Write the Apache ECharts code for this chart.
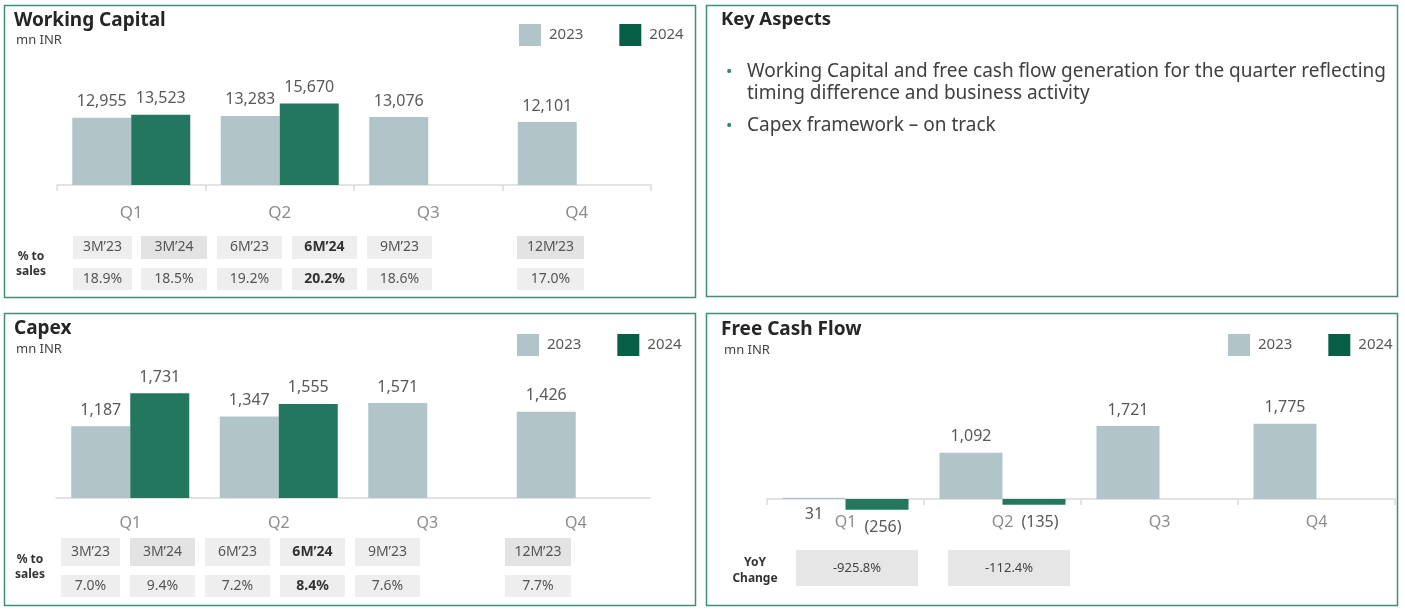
<!DOCTYPE html>
<html>
<head>
<meta charset="utf-8">
<script src="https://cdn.jsdelivr.net/npm/echarts@6/dist/echarts.min.js"></script>
<style>
  html, body { margin: 0; padding: 0; background: #fff; }
  #main { width: 1405px; height: 611px; }
</style>
</head>
<body>
<div id="main"></div>
<script>
// data
const quarters = ['Q1', 'Q2', 'Q3', 'Q4'];
const wc2023 = [12955, 13283, 13076, 12101];
const wc2024 = [13523, 15670, null, null];
const capex2023 = [1187, 1347, 1571, 1426];
const capex2024 = [1731, 1555, null, null];
const fcf2023 = [31, 1092, 1721, 1775];
const fcf2024 = [-256, -135, null, null];
const periods = ['3M’23', '3M’24', '6M’23', '6M’24', '9M’23', '12M’23'];
const wcPct = ['18.9%', '18.5%', '19.2%', '20.2%', '18.6%', '17.0%'];
const capexPct = ['7.0%', '9.4%', '7.2%', '8.4%', '7.6%', '7.7%'];
const yoyChange = ['-925.8%', '-112.4%'];
const keyAspects = [
  ['Working Capital and free cash flow generation for the quarter reflecting', 'timing difference and business activity'],
  ['Capex framework – on track']
];

const FONT = '"Noto Sans", "Open Sans", sans-serif';
const C23 = '#b1c4c8';
const C24 = '#23775f';
const C24_LEGEND = '#075e46';
const BORDER = '#3f8f71';
const LABEL = '#595959';

const chart = echarts.init(document.getElementById('main'));

//helpers for the graphic layer
function txt(x, y, text, size, extra) {
  return {
    type: 'text', x: x, y: y, silent: true, z: 10,
    style: Object.assign({
      text: text, fontSize: size, fontFamily: FONT, fill: '#555',
      align: 'left', verticalAlign: 'middle'
    }, extra || {})
  };
}
function box(x, y, w, h, fill, stroke) {
  return {
    type: 'rect', silent: true, z: 5,
    shape: { x: x, y: y, width: w, height: h },
    style: stroke ? { fill: 'none', stroke: stroke, lineWidth: 1.5 } : { fill: fill }
  };
}

// % to sales table (header row + value row)
function pctTable(xs, ws, hdrTop, hdrH, valTop, valH, values, darkHdr, boldIdx) {
  const out = [];
  xs.forEach((x, i) => {
    const w = ws[i];
    const bold = i === boldIdx;
    const st = { align: 'center', fill: bold ? '#333' : '#555', fontWeight: bold ? 'bold' : 'normal' };
    out.push(box(x, hdrTop, w, hdrH, darkHdr.indexOf(i) >= 0 ? '#e3e3e3' : '#eeeeee'));
    out.push(box(x, valTop, w, valH, '#eeeeee'));
    out.push(txt(x + w / 2, hdrTop + hdrH / 2, periods[i], 14, st));
    out.push(txt(x + w / 2, valTop + valH / 2, values[i], 14, st));
  });
  return out;
}

const graphics = [];
// panel borders
graphics.push(box(4.5, 5.5, 691, 292, null, BORDER));
graphics.push(box(706.5, 5.5, 691, 291, null, BORDER));
graphics.push(box(4.5, 313.5, 691, 292, null, BORDER));
graphics.push(box(706.5, 313.5, 691, 292, null, BORDER));

// titles
const titleStyle = { fontWeight: 'bold', fill: '#262626' };
graphics.push(txt(14, 21, 'Working Capital', 19, titleStyle));
graphics.push(txt(16, 40, 'mn INR', 13, { fill: '#444' }));
graphics.push(txt(14, 329, 'Capex', 19, titleStyle));
graphics.push(txt(16, 349, 'mn INR', 13, { fill: '#444' }));
graphics.push(txt(721, 330, 'Free Cash Flow', 19, titleStyle));
graphics.push(txt(724, 350, 'mn INR', 13, { fill: '#444' }));
graphics.push(txt(721, 20, 'Key Aspects', 18.5, titleStyle));

// key aspects bullets
let ky = 72;
keyAspects.forEach(lines => {
  graphics.push(txt(726, ky, '•', 17, { fill: '#2e8b6a' }));
  lines.forEach(l => {
    graphics.push(txt(747, ky, l, 19, { fill: '#404040' }));
    ky += 22;
  });
  ky += 10;
});

// tables
const sideLbl = { align: 'center', fontWeight: 'bold', fill: '#333' };
graphics.push(txt(31, 257, '% to', 12, sideLbl));
graphics.push(txt(31, 272, 'sales', 12, sideLbl));
graphics.push(...pctTable([73, 141, 217, 292, 367, 517], [59, 66, 65, 65, 65, 67], 236, 23, 268, 22, wcPct, [1, 5], 3));

graphics.push(txt(30, 560, '% to', 12, sideLbl));
graphics.push(txt(30, 575, 'sales', 12, sideLbl));
graphics.push(...pctTable([61, 130, 205, 280, 355, 505], [59, 65, 65, 65, 65, 66], 538, 28, 575, 22, capexPct, [1, 5], 3));

graphics.push(txt(755, 563, 'YoY', 12, sideLbl));
graphics.push(txt(755, 579, 'Change', 12, sideLbl));
[796, 948].forEach((x, i) => {
  graphics.push(box(x, 550, 122, 36, '#e6e6e6'));
  graphics.push(txt(x + 61, 568, yoyChange[i], 13, { align: 'center', fill: '#444' }));
});

const fmt = v => v.toLocaleString('en-US');

function legend(left, top) {
  return {
    left: left, top: top, padding: 0, itemWidth: 22, itemHeight: 22, itemGap: 36,
    icon: 'rect', selectedMode: false,
    textStyle: { fontSize: 15, color: LABEL, fontFamily: FONT, padding: [0, 0, 0, 3] },
    data: [{ name: '2023' }, { name: '2024', itemStyle: { color: C24_LEGEND } }]
  };
}

function xAx(gridIndex, ticks, margin, size) {
  return {
    type: 'category', gridIndex: gridIndex, data: quarters,
    axisLine: { lineStyle: { color: '#dadada', width: 1.5 } },
    axisTick: { show: ticks, length: 6, lineStyle: { color: '#dadada', width: 1.5 } },
    axisLabel: { color: '#8c8c8c', fontSize: size, fontFamily: FONT, margin: margin }
  };
}
function yAx(gridIndex, min, max) {
  return { type: 'value', gridIndex: gridIndex, min: min, max: max, show: false, splitLine: { show: false } };
}

function bars(name, data, idx, color, width, labelPos, formatter) {
  return {
    name: name, type: 'bar', xAxisIndex: idx, yAxisIndex: idx, data: data,
    barWidth: width, barGap: '0%', clip: false, itemStyle: { color: color },
    label: {
      show: true, position: labelPos, distance: 8, color: LABEL, fontSize: 16, fontFamily: FONT,
      formatter: p => formatter(p.value)
    }
  };
}

const fcfNeg = bars('2024', fcf2024, 2, C24, 63, 'outside', v => '(' + fmt(Math.abs(v)) + ')');
fcfNeg.label.distance = 10;
fcfNeg.label.offset = [6, 0];

const option = {
  animation: false,
  backgroundColor: '#fff',
  textStyle: { fontFamily: FONT },
  legend: [legend(519, 24), legend(517, 334), legend(1228, 334)],
  grid: [
    { left: 57, width: 594, top: 81, height: 104 },
    { left: 56, width: 594, top: 377, height: 121 },
    // bottom edge of this grid is the zero line, negatives hang below it
    { left: 767, width: 628, top: 393, height: 106 }
  ],
  xAxis: [xAx(0, true, 20, 17), xAx(1, false, 17, 16), xAx(2, true, 15, 16)],
  yAxis: [yAx(0, 0, 20000), yAx(1, 0, 2000), yAx(2, 0, 2500)],
  series: [
    bars('2023', wc2023, 0, C23, 59, 'top', fmt),
    bars('2024', wc2024, 0, C24, 59, 'top', fmt),
    bars('2023', capex2023, 1, C23, 59, 'top', fmt),
    bars('2024', capex2024, 1, C24, 59, 'top', fmt),
    bars('2023', fcf2023.map((v, i) => i === 0 ? { value: v, label: { position: 'bottom', distance: 7 } } : v), 2, C23, 63, 'top', fmt),
    fcfNeg
  ],
  graphic: graphics
};
chart.setOption(option);
</script>
</body>
</html>
